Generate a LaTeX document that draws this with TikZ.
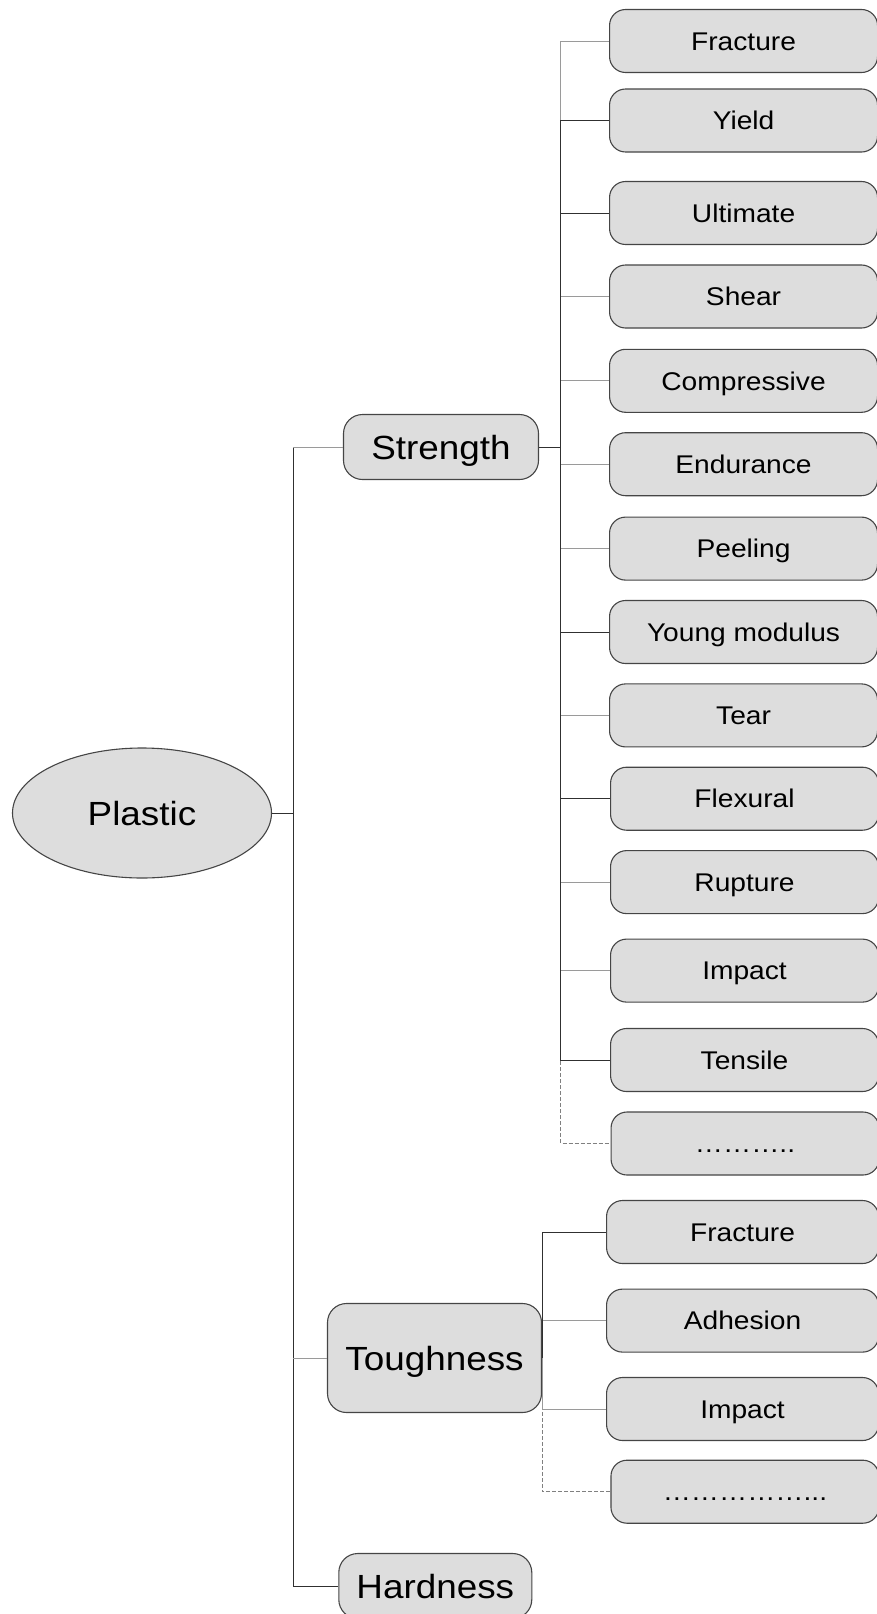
\documentclass[tikz,border=0pt]{standalone}
\usepackage{fontspec}
\setmainfont{Liberation Sans}[FakeStretch=1.1]
\usetikzlibrary{shapes.geometric}
\definecolor{boxfill}{HTML}{DDDDDD}
\definecolor{boxline}{HTML}{454545}
\definecolor{lgrey}{HTML}{9A9A9A}
\definecolor{ldark}{HTML}{303030}
\begin{document}
\begin{tikzpicture}[x=1pt,y=-1pt,
  leaf/.style={draw=boxline, fill=boxfill, rounded corners=16pt, line width=1.1pt,
    minimum width=268pt, minimum height=63pt, inner sep=0pt, anchor=west,
    font=\fontsize{25.6}{30}\selectfont, text height=22.2pt, text depth=3.8pt},
  mid/.style={draw=boxline, fill=boxfill, rounded corners=19pt, line width=1.1pt,
    inner sep=0pt, font=\fontsize{33.5}{40}\selectfont, text height=29pt, text depth=5pt},
  gline/.style={draw=lgrey, line width=1pt},
  dline/.style={draw=ldark, line width=1pt},
  dashline/.style={draw=gray, line width=1pt, dash pattern=on 4pt off 2pt}]
\useasboundingbox (0,0) rectangle (877,1614);
\clip (0,0) rectangle (877,1614);

% main nodes
\node[ellipse, draw=boxline, fill=boxfill, line width=1.1pt, minimum width=259pt, minimum height=130pt,
  inner sep=0pt, font=\fontsize{33.5}{40}\selectfont, text height=29pt, text depth=5pt] (P) at (142,813) {Plastic};
\node[mid, minimum width=195pt, minimum height=65pt] (S) at (441,447) {Strength};
\node[mid, minimum width=214pt, minimum height=109pt] (T) at (434.5,1358) {Toughness};
\node[mid, minimum width=193pt, minimum height=65pt] (H) at (435.3,1586) {Hardness};

% strength children
\node[leaf] (s1) at (609,41) {Fracture};
\node[leaf] (s2) at (609,120.5) {Yield};
\node[leaf] (s3) at (609,213) {Ultimate};
\node[leaf] (s4) at (609,296.5) {Shear};
\node[leaf] (s5) at (609,380.8) {Compressive};
\node[leaf] (s6) at (609,464.2) {Endurance};
\node[leaf] (s7) at (609,548.6) {Peeling};
\node[leaf] (s8) at (609,632) {Young modulus};
\node[leaf] (s9) at (609,715.4) {Tear};
\node[leaf] (s10) at (610,798.7) {Flexural};
\node[leaf] (s11) at (610,882.1) {Rupture};
\node[leaf] (s12) at (610,970.6) {Impact};
\node[leaf] (s13) at (610,1060) {Tensile};
\node[leaf] (sd) at (610.5,1143.5) {……….. };

% toughness children
\node[leaf, minimum width=272pt] (t1) at (606,1232) {Fracture};
\node[leaf, minimum width=272pt] (t2) at (606,1320.6) {Adhesion};
\node[leaf, minimum width=272pt] (t3) at (606,1409) {Impact};
\node[leaf, minimum width=268pt] (td) at (610.4,1491.7) {……………...};

\coordinate (mj) at (293.3,0);
\coordinate (sj) at (560.7,0);

% main connectors
\draw[dline] (P.east) -- (P.east -| mj) |- (S.west);
\draw[dline] (P.east -| mj) |- (T.west);
\draw[dline] (P.east -| mj) |- (H.west);
\draw[gline] (S.west) -- (S.west -| mj);
\draw[gline] (T.west) -- (T.west -| mj);

% strength connectors
\draw[dashline] (S.east) -- (S.east -| sj) |- (sd.west);
\foreach \n in {s1,s4,s5,s6,s7,s9,s11,s12}
  \draw[gline] (S.east) -- (S.east -| sj) |- (\n.west);
\foreach \n in {s2,s3,s8,s10,s13}
  \draw[dline] (S.east) -- (S.east -| sj) |- (\n.west);

% toughness connectors
\draw[dashline] (T.east) |- (td.west);
\draw[gline] (T.east) |- (t2.west);
\draw[gline] (T.east) |- (t3.west);
\draw[dline] (T.east) |- (t1.west);
\end{tikzpicture}
\end{document}
